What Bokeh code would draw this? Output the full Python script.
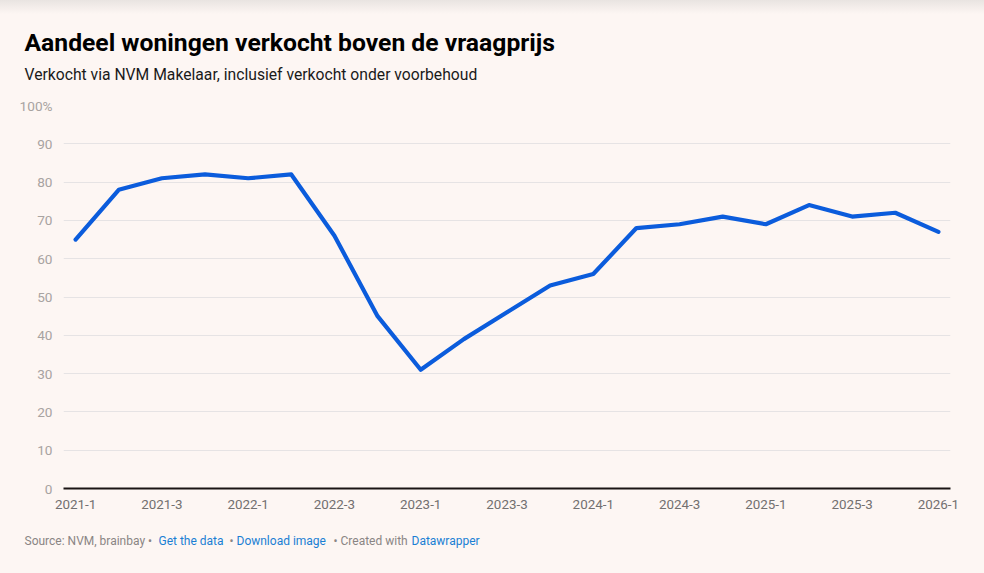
from bokeh.plotting import figure
from bokeh.models import Label, FixedTicker, ColumnDataSource
from bokeh.layouts import column, row
from bokeh.embed import file_html
from bokeh.resources import INLINE

# ---- data ----
quarters = ["2021-1", "2021-2", "2021-3", "2021-4",
            "2022-1", "2022-2", "2022-3", "2022-4",
            "2023-1", "2023-2", "2023-3", "2023-4",
            "2024-1", "2024-2", "2024-3", "2024-4",
            "2025-1", "2025-2", "2025-3", "2025-4",
            "2026-1"]
share_above_asking = [65, 78, 81, 82, 81, 82, 66, 45, 31, 39, 46, 53,
                      56, 68, 69, 71, 69, 74, 71, 72, 67]
y_ticks = [0, 10, 20, 30, 40, 50, 60, 70, 80, 90, 100]
x_tick_labels = quarters[::2]

title_text = "Aandeel woningen verkocht boven de vraagprijs"
subtitle_text = "Verkocht via NVM Makelaar, inclusief verkocht onder voorbehoud"
footer_parts = [("Source: NVM, brainbay •", "gray"), ("Get the data", "link"),
                ("•", "gray"), ("Download image", "link"),
                ("• Created with", "gray"), ("Datawrapper", "link")]

BG = "#fdf6f3"
FONT = "Roboto"
W = 984
HEAD_H, MAIN_H = 92, 430
FOOT_H = 573 - HEAD_H - MAIN_H


def blank_fig(h):
    f = figure(width=W, height=h, output_backend="svg", toolbar_location=None,
               x_axis_type=None, y_axis_type=None, x_range=(0, 1), y_range=(0, 1),
               min_border=0, min_border_left=0, min_border_right=0,
               min_border_top=0, min_border_bottom=0, title_location=None)
    f.grid.visible = False
    f.outline_line_color = None
    f.background_fill_alpha = 0
    f.border_fill_alpha = 0
    return f


def add_text(f, txt, sx, sy, size, color, bold=False):
    f.add_layout(Label(x=sx, y=sy, x_units="screen", y_units="screen",
                       text=txt, text_font=FONT, text_font_size=size,
                       text_color=color, text_baseline="alphabetic",
                       text_align="left",
                       text_font_style="bold" if bold else "normal"))


# ---- header ----
head = blank_fig(HEAD_H)
add_text(head, title_text, 24, HEAD_H - 42, "24.7px", "#000000", bold=True)
add_text(head, subtitle_text, 24, HEAD_H - 74, "15.7px", "#1a1a1a")

# ---- main chart ----
xs = list(range(len(quarters)))
src = ColumnDataSource(dict(x=xs, y=share_above_asking, q=quarters))

p = figure(width=W, height=MAIN_H, output_backend="svg", toolbar_location=None,
           x_range=(-0.28, len(quarters) - 1 + 0.28), y_range=(0, 100),
           min_border_left=63, min_border_right=34, min_border_top=105 - HEAD_H,
           min_border_bottom=HEAD_H + MAIN_H - 488, title_location=None)
p.background_fill_alpha = 0
p.border_fill_alpha = 0
p.outline_line_color = None

p.line("x", "y", source=src, line_color="#0b5cdc", line_width=4.2,
       line_join="round", line_cap="round")

p.xgrid.visible = False
p.ygrid.grid_line_color = "#e6e3e4"
p.ygrid.grid_line_width = 1
p.ygrid.ticker = FixedTicker(ticks=y_ticks)

yax = p.yaxis[0]
yax.ticker = FixedTicker(ticks=y_ticks)
yax.major_label_overrides = {100: "100%"}
yax.axis_line_color = None
yax.major_tick_line_color = None
yax.minor_tick_line_color = None
yax.major_label_standoff = 5
yax.major_label_text_font = FONT
yax.major_label_text_font_size = "13.6px"
yax.major_label_text_color = "#a8a3a1"

xax = p.xaxis[0]
tick_pos = xs[::2]
xax.ticker = FixedTicker(ticks=tick_pos)
xax.major_label_overrides = {t: lab for t, lab in zip(tick_pos, x_tick_labels)}
xax.axis_line_color = "#1a1414"
xax.axis_line_width = 2
xax.major_tick_line_color = None
xax.minor_tick_line_color = None
xax.major_label_standoff = 5
xax.major_label_text_font = FONT
xax.major_label_text_font_size = "13.4px"
xax.major_label_text_color = "#737070"

# ---- footer ----
foot = blank_fig(FOOT_H)
GRAY = "#8a8584"
BLUE = "#1a7fd4"
foot_x = [24, 158, 229, 236, 333, 411]
for (txt, kind), fx in zip(footer_parts, foot_x):
    add_text(foot, txt, fx, 573 - 540, "12px", GRAY if kind == "gray" else BLUE)

layout = column(row(head), row(p), row(foot), spacing=0,
                styles={"background": "linear-gradient(to bottom, #e9e4e1 0px, "
                        + BG + " 14px) " + BG})

html = file_html(layout, INLINE)
open("out.html", "w").write(html)
